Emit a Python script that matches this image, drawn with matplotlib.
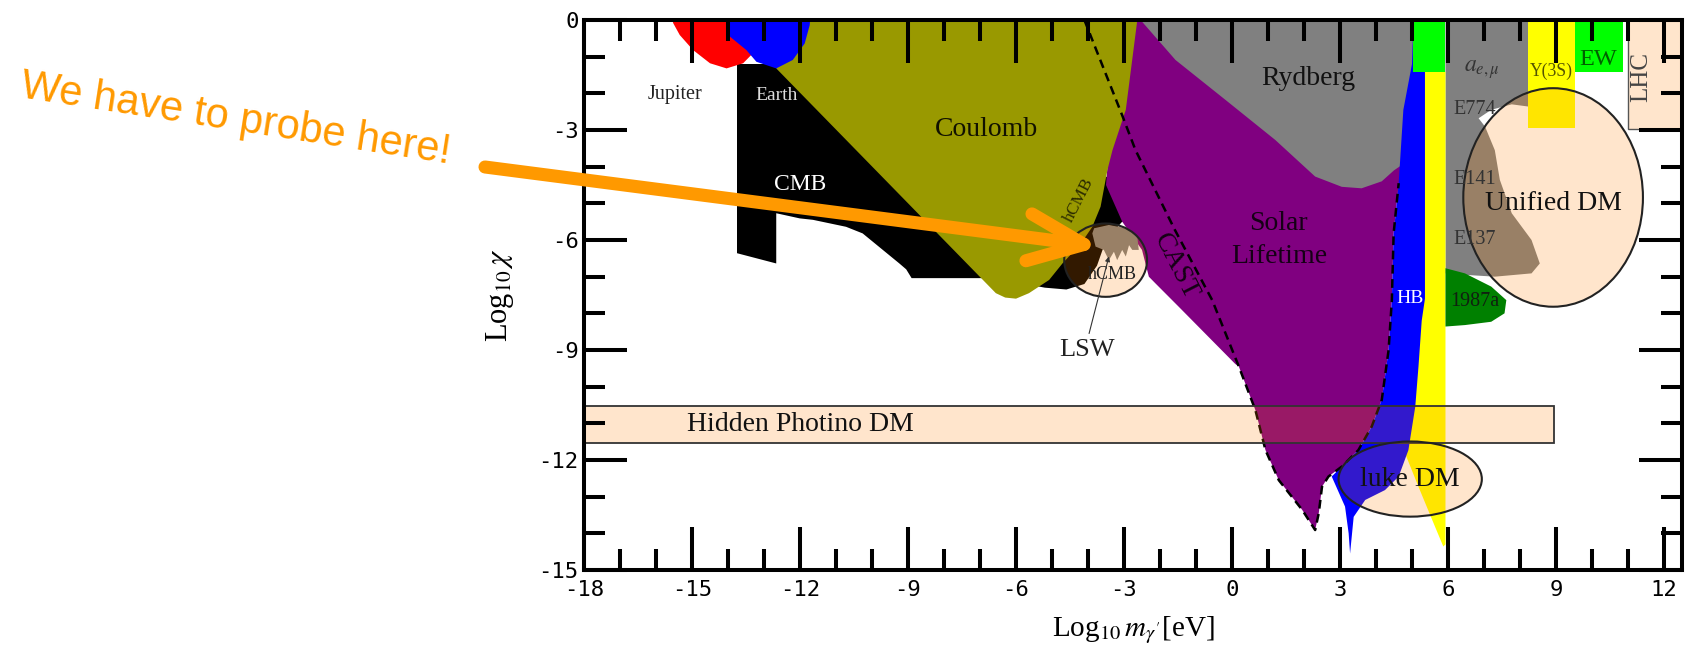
import matplotlib
matplotlib.use('Agg')
import matplotlib.pyplot as plt
from matplotlib.patches import Polygon, Ellipse
from matplotlib.ticker import MultipleLocator

# ---- region outlines (log10 m [eV], log10 chi) ----
JUPITER = [(-15.55, 0), (-15.52, -0.09), (-15.34, -0.41), (-14.97, -0.82), (-14.5, -1.18),
           (-14.04, -1.32), (-13.58, -1.18), (-13.3, -0.9), (-13.2, 0)]
EARTH = [(-13.95, 0), (-13.95, -0.45), (-13.49, -0.82), (-13.21, -1.14), (-12.66, -1.32),
         (-12.2, -1.09), (-11.87, -0.64), (-11.73, -0.14), (-11.72, 0)]
CMB = [(-13.75, -1.2), (-13.75, -6.36), (-12.66, -6.64), (-12.66, -5.27), (-12.01, -5.41),
       (-11.64, -5.45), (-10.72, -5.64), (-10.26, -5.82), (-9.24, -6.64), (-9.05, -6.8),
       (-8.9, -7.04), (-6.74, -7.04), (-6.0, -7.15), (-5.2, -7.3), (-4.6, -7.35), (-4.1, -7.2),
       (-3.75, -6.7), (-3.5, -6.0), (-3.05, -5.5), (-2.9, -5.5), (-3.2, -4.3), (-7.0, -4.0),
       (-12.6, -1.2)]
COULOMB = [(-12.66, -1.32), (-6.56, -7.45), (-6.3, -7.57), (-6.0, -7.6), (-5.64, -7.45),
           (-5.08, -7.09), (-4.71, -6.64), (-4.2, -6.1), (-3.88, -5.64), (-3.65, -5.09),
           (-3.46, -4.09), (-3.32, -3.55), (-2.95, -2.45), (-2.63, 0), (-12.2, 0)]
RYDBERG = [(-2.6, 0), (5.1, 0), (5.1, -4.8), (-2.6, -4.8)]
SOLAR = [(-3.0, 0), (-2.54, 0), (-1.57, -1.09), (-0.18, -2.18), (1.2, -3.27), (2.31, -4.27),
         (3.05, -4.55), (3.6, -4.59), (4.16, -4.4), (4.5, -4.1), (4.8, -3.9), (4.63, -4.45),
         (4.49, -5.82), (4.44, -7.64), (4.35, -9.0), (4.16, -10.36), (3.88, -11.09),
         (3.51, -11.73), (3.05, -12.18), (2.68, -12.45), (2.5, -12.73), (2.41, -13.45),
         (2.31, -13.91), (1.95, -13.36), (1.3, -12.55), (0.93, -11.73), (0.65, -10.64),
         (0.19, -9.45), (0.09, -9.38), (-1.48, -7.82), (-2.13, -7.18), (-2.31, -7.0),
         (-2.5, -6.27), (-3.05, -5.5), (-3.5, -4.5), (-3.3, -2.0)]
CAST_X = [-4.1, -3.05, -2.68, -1.6, -0.55, 0.19, 0.65, 0.93, 1.3, 1.95, 2.31, 2.41, 2.5, 2.68,
          3.05, 3.51, 3.88, 4.16, 4.35, 4.44, 4.49, 4.63]
CAST_Y = [0, -2.6, -3.55, -5.7, -7.64, -9.45, -10.64, -11.73, -12.55, -13.36, -13.91, -13.45,
          -12.73, -12.45, -12.18, -11.73, -11.09, -10.36, -9.0, -7.64, -5.82, -4.45]
HB_BLUE = [(5.04, 0), (5.36, 0), (5.36, -7.6), (5.27, -8.2), (5.18, -9.45), (5.09, -10.55),
           (4.9, -11.73), (4.63, -12.45), (4.25, -12.82), (3.7, -13.09), (3.38, -13.55),
           (3.28, -14.55), (3.24, -14.0), (3.14, -13.27), (2.77, -12.45), (3.05, -12.18),
           (3.51, -11.73), (3.88, -11.09), (4.16, -10.36), (4.35, -9.0), (4.44, -7.64),
           (4.49, -5.82), (4.63, -4.45), (4.76, -2.45), (5.0, -1.2)]
HB_YELLOW = [(5.3, -1.41), (5.93, -1.41), (5.93, -14.3), (5.87, -14.36), (5.64, -13.82),
             (5.18, -12.73), (4.8, -11.8), (5.0, -10.5), (5.2, -8.0)]
HB_TOP = [(5.04, 0), (5.93, 0), (5.93, -1.41), (5.04, -1.41)]
AE_MU = [(5.93, 0), (8.23, 0), (8.23, -2.36), (7.77, -2.3), (7.2, -2.45), (6.85, -2.68),
         (7.03, -2.91), (7.3, -3.55), (7.44, -4.36), (7.77, -5.27), (8.32, -6.0), (8.55, -6.64),
         (8.32, -6.91), (7.3, -7.0), (6.47, -6.95), (5.93, -6.91)]
SN1987A = [(5.93, -6.77), (6.47, -6.91), (7.2, -7.27), (7.62, -7.64), (7.57, -8.0),
           (7.2, -8.23), (6.47, -8.32), (5.93, -8.36)]
Y3S = [(8.23, 0), (9.52, 0), (9.52, -2.95), (8.23, -2.95)]
EW = [(9.52, 0), (10.87, 0), (10.87, -1.41), (9.52, -1.41)]
LHC = [(11.0, 0), (12.5, 0), (12.5, -2.97), (11.0, -2.97)]
HCMB_LIMIT = [(-3.83, -5.68), (-3.42, -5.59), (-2.95, -5.68), (-2.63, -5.91), (-2.59, -6.27),
              (-2.77, -6.27), (-2.86, -6.14), (-2.95, -6.45), (-3.05, -6.27), (-3.19, -6.55),
              (-3.28, -6.32), (-3.42, -6.55), (-3.56, -6.27), (-3.79, -6.18), (-3.88, -5.82)]
PHOTINO = [(-18, -10.53), (8.95, -10.53), (8.95, -11.53), (-18, -11.53)]
# ellipses: centre x, centre y, width, height
HCMB_CIRCLE = (-3.51, -6.55, 2.3, 2.0)
UNIFIED_DM = (8.92, -4.84, 4.99, 5.96)
LUKE_DM = (4.95, -12.52, 3.98, 2.05)

PEACH = (1.0, 0.5, 0.0, 0.2)

plt.rcParams['font.family'] = ['Liberation Serif', 'DejaVu Serif']
plt.rcParams['mathtext.fontset'] = 'stix'
plt.rcParams['axes.unicode_minus'] = False

fig = plt.figure(figsize=(16.93, 6.48), dpi=100)
ax = fig.add_axes([584/1693, 1-570/648, (1682-584)/1693, 550/648])
ax.set_xlim(-18, 12.5)
ax.set_ylim(-15, 0)


def fill(pts, color, z):
    ax.add_patch(Polygon(pts, closed=True, fc=color, ec='none', zorder=z))


fill(RYDBERG, '#808080', 1.0)
fill(AE_MU, '#808080', 1.0)
fill(CMB, 'black', 1.1)
fill(SOLAR, '#800080', 1.2)
fill(COULOMB, '#999900', 1.3)
fill(JUPITER, '#ff0000', 1.4)
fill(EARTH, '#0000ff', 1.5)
fill(HB_YELLOW, '#ffff00', 1.6)
fill(HB_BLUE, '#0000ff', 1.7)
fill(HB_TOP, '#00ff00', 1.8)
fill(SN1987A, '#008000', 1.8)
fill(Y3S, '#ffff00', 1.8)
fill(EW, '#00ff00', 1.8)
fill(HCMB_LIMIT, '#808080', 1.9)

ax.plot(CAST_X, CAST_Y, color='black', lw=1.8, ls=(0, (3.5, 2.2)), zorder=2.0)

ax.add_patch(Polygon(PHOTINO, closed=True, fc=PEACH, ec='#333333', lw=1.3, zorder=2.1))
ax.add_patch(Polygon(LHC, closed=True, fc=PEACH, ec='#555555', lw=1.0, zorder=2.1))
for cx, cy, w, h in (HCMB_CIRCLE, UNIFIED_DM, LUKE_DM):
    ax.add_patch(Ellipse((cx, cy), w, h, fc=PEACH, ec='#222222', lw=1.5, zorder=2.2))

# labels
ax.text(-15.48, -2.03, 'Jupiter', fontsize=14.5, color='#222222', ha='center', va='center', zorder=3)
ax.text(-12.64, -2.05, 'Earth', fontsize=14, color='#dddddd', ha='center', va='center', zorder=3)
ax.text(-12.01, -4.48, 'CMB', fontsize=17, color='white', ha='center', va='center', zorder=3)
ax.text(-6.81, -3.0, 'Coulomb', fontsize=20, color='#111100', ha='center', va='center', zorder=3)
ax.text(2.13, -1.59, 'Rydberg', fontsize=20, color='#111111', ha='center', va='center', zorder=3)
ax.text(1.3, -6.0, 'Solar\nLifetime', fontsize=20, color='#150015', ha='center', va='center',
        linespacing=1.4, zorder=3)
ax.text(-1.57, -6.73, 'CAST', fontsize=20, color='#150015', rotation=-63, ha='center',
        va='center', zorder=3)
ax.text(-4.25, -4.91, 'hCMB', fontsize=12.5, color='#2a2a00', rotation=63, ha='center',
        va='center', zorder=3)
ax.text(-3.33, -6.95, 'hCMB', fontsize=13, color='#222222', ha='center', va='center', zorder=3)
ax.text(-4.02, -9.0, 'LSW', fontsize=19, color='#222222', ha='center', va='center', zorder=3)
ax.annotate('', xy=(-3.42, -6.45), xytext=(-3.97, -8.55),
            arrowprops=dict(arrowstyle='-|>', mutation_scale=7, lw=0.8, color='#333333',
                            shrinkA=0, shrinkB=0), zorder=3)
ax.text(4.95, -7.59, 'HB', fontsize=14, color='white', ha='center', va='center', zorder=3)
ax.text(6.94, -1.36, r'$a_{e,\mu}$', fontsize=17, color='#333333', ha='center', va='center', zorder=3)
ax.text(6.75, -2.45, 'E774', fontsize=14.5, color='#333333', ha='center', va='center', zorder=3)
ax.text(6.75, -4.36, 'E141', fontsize=14.5, color='#333333', ha='center', va='center', zorder=3)
ax.text(6.75, -6.0, 'E137', fontsize=14.5, color='#333333', ha='center', va='center', zorder=3)
ax.text(6.75, -7.68, '1987a', fontsize=14.5, color='#102010', ha='center', va='center', zorder=3)
ax.text(8.87, -1.41, 'Y(3S)', fontsize=12.7, color='#555500', ha='center', va='center', zorder=3)
ax.text(10.17, -1.09, 'EW', fontsize=17.5, color='#006000', ha='center', va='center', zorder=3)
ax.text(11.37, -1.55, 'LHC', fontsize=18, color='#444444', rotation=90, ha='center',
        va='center', zorder=3)
ax.text(8.92, -5.0, 'Unified DM', fontsize=20, color='#111111', ha='center', va='center', zorder=3)
ax.text(4.95, -12.53, 'luke DM', fontsize=20, color='#111111', ha='center', va='center', zorder=3)
ax.text(-15.15, -11.03, 'Hidden Photino DM', fontsize=20, color='#111111', ha='left',
        va='center', zorder=3)

# axes styling
ax.xaxis.set_major_locator(MultipleLocator(3))
ax.xaxis.set_minor_locator(MultipleLocator(1))
ax.yaxis.set_major_locator(MultipleLocator(3))
ax.yaxis.set_minor_locator(MultipleLocator(1))
ax.tick_params(which='major', direction='in', length=31, width=2.9, top=True, right=True,
               labelsize=16, pad=7.5)
ax.tick_params(which='minor', direction='in', length=15, width=2.9, top=True, right=True)
ax.tick_params(axis='y', pad=4)
for lbl in ax.get_xticklabels() + ax.get_yticklabels():
    lbl.set_fontfamily('DejaVu Sans Mono')
for s in ax.spines.values():
    s.set_linewidth(2.9)
    s.set_zorder(20)
ax.xaxis.set_zorder(20)
ax.yaxis.set_zorder(20)

ax.set_xlabel(r"Log$_{10}\,m_{\gamma'}$[eV]", fontsize=21)
ax.xaxis.set_label_coords(0.5, -0.08)
ax.set_ylabel(r'Log$_{10}\,\chi$', fontsize=22)
ax.yaxis.set_label_coords(-0.062, 0.5)

# the orange call-out
fig.text(0.1391, 0.8164, 'We have to probe here!', rotation=-8.8, color='#ff9900', fontsize=30,
         family='Liberation Sans', ha='center', va='center')
ax.annotate('', xy=(-3.65, -6.18), xycoords='data', xytext=(485, 481),
            textcoords='figure pixels', annotation_clip=False,
            arrowprops=dict(arrowstyle='->,head_length=4,head_width=1.7', mutation_scale=10,
                            lw=9.4, color='#ff9900', shrinkA=0, shrinkB=0),
            zorder=30)

fig.savefig('out.png', dpi=100)
